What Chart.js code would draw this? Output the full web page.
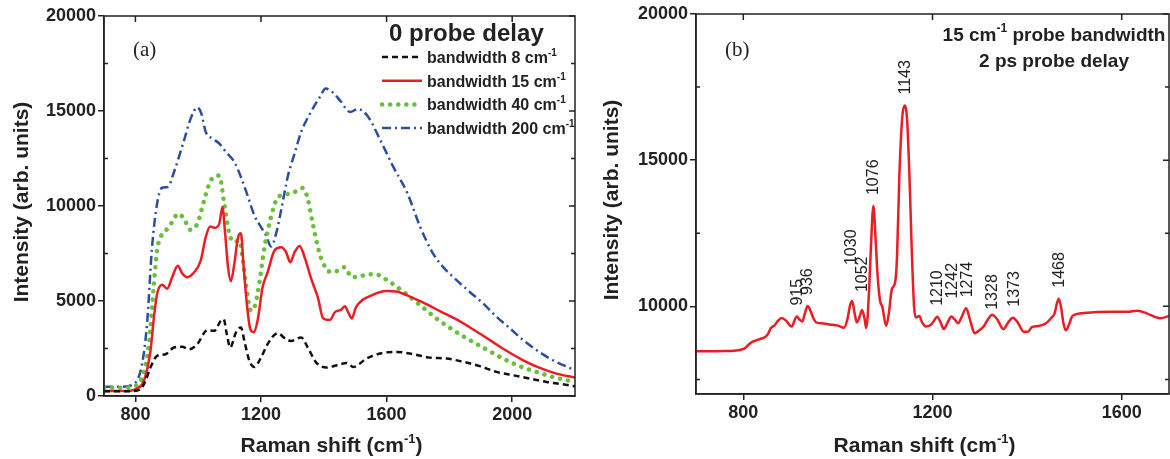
<!DOCTYPE html>
<html>
<head>
<meta charset="utf-8">
<script src="https://cdn.jsdelivr.net/npm/chart.js@4.4.1/dist/chart.umd.min.js"></script>
<style>
  html, body { margin: 0; padding: 0; background: #fff; }
  #wrap { position: relative; width: 1170px; height: 459px; }
  #left { position: absolute; left: 0; top: 0; width: 585px; height: 459px; }
  #right { position: absolute; left: 590px; top: 0; width: 580px; height: 459px; }
</style>
</head>
<body>
<div id="wrap">
  <canvas id="left" width="585" height="459"></canvas>
  <canvas id="right" width="580" height="459"></canvas>
</div>
<script>
// ---- panel (a): 0 probe delay, four probe bandwidths ----
var bandwidths = [8, 15, 40, 200];

var bw8X = [700, 760, 790, 816, 832, 848, 869, 896, 923, 949, 971, 997, 1029, 1051, 1072, 1081, 1091, 1102, 1120, 1136, 1147, 1163, 1179, 1200, 1221, 1253, 1280, 1296, 1328, 1349, 1376, 1408, 1445, 1473, 1494, 1536, 1579, 1632, 1685, 1738, 1791, 1844, 1897, 1950, 2003, 2056, 2109, 2160, 2200];
var bw8Y = [250, 250, 260, 350, 790, 1500, 2110, 2200, 2550, 2590, 2460, 2730, 3470, 3430, 3960, 4050, 3260, 2550, 3340, 3610, 2900, 1850, 1530, 2020, 2730, 3300, 2990, 2900, 3080, 2550, 1760, 1500, 1640, 1740, 1530, 1970, 2240, 2320, 2200, 2020, 1970, 1800, 1570, 1270, 1090, 915, 740, 620, 510];

var bw15X = [700, 760, 785, 805, 827, 848, 859, 869, 885, 901, 917, 935, 949, 965, 987, 1008, 1024, 1038, 1051, 1067, 1077, 1085, 1095, 1104, 1115, 1127, 1136, 1144, 1155, 1166, 1177, 1189, 1205, 1221, 1243, 1264, 1280, 1293, 1307, 1323, 1339, 1360, 1381, 1398, 1419, 1435, 1456, 1467, 1478, 1489, 1502, 1523, 1550, 1577, 1603, 1630, 1664, 1717, 1770, 1823, 1876, 1929, 1982, 2035, 2088, 2141, 2200];
var bw15Y = [260, 260, 280, 390, 790, 2380, 4140, 5370, 5860, 5650, 6250, 6860, 6460, 6250, 6510, 7130, 8360, 8920, 8850, 9060, 9950, 8710, 6780, 6040, 6950, 8360, 8560, 6950, 4840, 3520, 3360, 3960, 5720, 6510, 7660, 7830, 7570, 7040, 7570, 7900, 7300, 6160, 5190, 4080, 4000, 4400, 4550, 4720, 4400, 4080, 4660, 5050, 5280, 5460, 5520, 5500, 5310, 4910, 4470, 4030, 3500, 2940, 2380, 1880, 1480, 1180, 970];

var bw40X = [700, 760, 800, 821, 843, 859, 869, 880, 896, 917, 935, 955, 974, 997, 1019, 1040, 1067, 1083, 1099, 1115, 1131, 1141, 1152, 1168, 1179, 1195, 1211, 1232, 1253, 1280, 1307, 1333, 1349, 1365, 1387, 1408, 1429, 1445, 1465, 1490, 1515, 1540, 1563, 1600, 1653, 1706, 1759, 1812, 1865, 1918, 1971, 2024, 2077, 2130, 2200];
var bw40Y = [440, 440, 530, 970, 2730, 5900, 7660, 8360, 8680, 9150, 9590, 9330, 8750, 9060, 10300, 11350, 11600, 10120, 8540, 8100, 8180, 7300, 5900, 4490, 4660, 5980, 7830, 9420, 10440, 10610, 10740, 10950, 10380, 9060, 7480, 6690, 6510, 6600, 6780, 6250, 6300, 6400, 6410, 6110, 5490, 4790, 4080, 3470, 2940, 2450, 1970, 1570, 1270, 1000, 740];

var bw200X = [700, 760, 800, 821, 837, 853, 869, 885, 903, 923, 955, 976, 997, 1010, 1024, 1045, 1067, 1088, 1115, 1136, 1157, 1179, 1200, 1216, 1232, 1248, 1264, 1285, 1307, 1328, 1357, 1388, 1406, 1430, 1452, 1484, 1509, 1541, 1580, 1621, 1666, 1707, 1747, 1779, 1822, 1864, 1907, 1950, 1993, 2035, 2078, 2120, 2163, 2200];
var bw200Y = [490, 490, 700, 1670, 3780, 7830, 10120, 10960, 11000, 11790, 13460, 14600, 15190, 14870, 13900, 13550, 13290, 12850, 12320, 11530, 10560, 9500, 8890, 8450, 7870, 8540, 9770, 11530, 12760, 13900, 14890, 15750, 16180, 15960, 15550, 14950, 15100, 14700, 13470, 12070, 10680, 8900, 7520, 6810, 6110, 5490, 4880, 4170, 3560, 2940, 2410, 1970, 1620, 1360];

var leftXTicks = [800, 1200, 1600, 2000];
var leftYTicks = [0, 5000, 10000, 15000, 20000];
var leftYMinor = [2500, 7500, 12500, 17500];

// ---- panel (b): 15 cm-1 bandwidth, 2 ps probe delay ----
var specX = [700, 760, 790, 803, 812, 820, 835, 846, 852, 858, 866, 873, 881, 891, 902, 913, 919, 925, 930, 936, 942, 948, 954, 965, 982, 1000, 1013, 1020, 1026, 1030, 1035, 1040, 1046, 1051, 1056, 1060, 1066, 1070, 1075, 1080, 1084, 1089, 1094, 1102, 1108, 1114, 1121, 1125, 1130, 1136, 1141, 1146, 1151, 1156, 1161, 1165, 1172, 1178, 1186, 1196, 1203, 1210, 1217, 1224, 1232, 1240, 1247, 1254, 1262, 1271, 1280, 1289, 1298, 1308, 1317, 1326, 1337, 1350, 1360, 1370, 1380, 1393, 1402, 1410, 1424, 1440, 1451, 1458, 1463, 1467, 1472, 1477, 1482, 1488, 1496, 1514, 1542, 1580, 1612, 1633, 1654, 1670, 1682, 1700];
var specY = [8460, 8470, 8500, 8560, 8700, 8790, 8880, 8950, 9050, 9250, 9350, 9500, 9600, 9500, 9310, 9650, 9550, 9480, 9750, 10010, 9850, 9600, 9450, 9420, 9380, 9340, 9270, 9550, 10050, 10180, 9800, 9450, 9650, 9870, 9600, 9260, 10580, 12100, 13430, 12200, 11030, 10200, 9980, 9330, 9800, 10580, 10820, 11700, 14500, 16450, 16870, 16450, 14600, 12000, 10000, 9620, 9670, 9450, 9310, 9360, 9500, 9640, 9450, 9220, 9450, 9650, 9550, 9420, 9650, 9930, 9500, 9080, 9170, 9310, 9550, 9710, 9550, 9220, 9450, 9610, 9450, 9130, 9130, 9290, 9330, 9420, 9600, 9750, 10100, 10260, 9950, 9400, 9180, 9350, 9670, 9760, 9800, 9810, 9810, 9850, 9750, 9640, 9590, 9670];
var peakLabels = [915, 936, 1030, 1052, 1076, 1143, 1210, 1242, 1274, 1328, 1373, 1468];

var rightXTicks = [800, 1200, 1600];
var rightYTicks = [10000, 15000, 20000];
var rightYMinor = [7500, 12500, 17500];

// ---- drawing ----
var INK = '#222';
var SANS = "'Liberation Sans', Arial, sans-serif";
Chart.defaults.font.family = SANS;

function xy(xs, ys) {
    return xs.map(function(x, i) { return {x: x, y: ys[i]}; });
}

// text with superscript parts: [[text, isSup], ...]
function supText(ctx, x, y, parts, size, align) {
    var base = 'bold ' + size + 'px ' + SANS;
    var small = 'bold ' + Math.round(size * 0.62) + 'px ' + SANS;
    var w = 0;
    parts.forEach(function(p) { ctx.font = p[1] ? small : base; w += ctx.measureText(p[0]).width; });
    var cx = align === 'center' ? x - w / 2 : x;
    ctx.textAlign = 'left';
    ctx.textBaseline = 'alphabetic';
    parts.forEach(function(p) {
        ctx.font = p[1] ? small : base;
        ctx.fillText(p[0], cx, p[1] ? y - size * 0.45 : y);
        cx += ctx.measureText(p[0]).width;
    });
}

function axis(min, max, tickList, fit) {
    return {
        type: 'linear', min: min, max: max,
        afterBuildTicks: function(s) { s.ticks = tickList.map(function(v) { return {value: v}; }); },
        afterFit: fit,
        ticks: { font: {size: 18, weight: 'bold'}, color: INK, padding: 2, autoSkip: false, maxRotation: 0,
                 callback: function(v) { return String(v); } },
        grid: { drawOnChartArea: false, color: INK, lineWidth: 1.5, tickLength: 6 },
        border: { color: INK, width: 1.5 },
        title: { display: false }
    };
}

// box, inward ticks, minor ticks and axis titles
var framePlugin = {
    id: 'frame',
    afterDraw: function(chart, args, opts) {
        var ctx = chart.ctx, a = chart.chartArea, sx = chart.scales.x, sy = chart.scales.y;
        ctx.save();
        ctx.strokeStyle = INK;
        ctx.lineWidth = 1.5;
        ctx.strokeRect(a.left, a.top, a.right - a.left, a.bottom - a.top);
        ctx.beginPath();
        sx.ticks.forEach(function(t) {
            var px = sx.getPixelForValue(t.value);
            ctx.moveTo(px, a.top); ctx.lineTo(px, a.top + 6);
        });
        sy.ticks.forEach(function(t) {
            var py = sy.getPixelForValue(t.value);
            ctx.moveTo(a.right, py); ctx.lineTo(a.right - 6, py);
        });
        opts.minorY.forEach(function(v) {
            var py = sy.getPixelForValue(v);
            ctx.moveTo(a.left, py); ctx.lineTo(a.left + 4, py);
            ctx.moveTo(a.right, py); ctx.lineTo(a.right - 4, py);
        });
        ctx.stroke();

        ctx.fillStyle = INK;
        supText(ctx, (a.left + a.right) / 2 - 8, 452, [['Raman shift (cm', false], ['-1', true], [')', false]], 21, 'center');
        ctx.save();
        ctx.translate(22, (a.top + a.bottom) / 2 - 4);
        ctx.rotate(-Math.PI / 2);
        ctx.font = 'bold 21px ' + SANS;
        ctx.textAlign = 'center';
        ctx.textBaseline = 'middle';
        ctx.fillText('Intensity (arb. units)', 0, 0);
        ctx.restore();

        ctx.font = '21px "Liberation Serif", "Times New Roman", serif';
        ctx.textAlign = 'left';
        ctx.textBaseline = 'alphabetic';
        ctx.fillText(opts.panel, a.left + 29, 56);
        ctx.restore();
    }
};

// legend of panel (a)
var legendPlugin = {
    id: 'bwLegend',
    afterDraw: function(chart) {
        var ctx = chart.ctx, a = chart.chartArea;
        ctx.save();
        ctx.fillStyle = INK;
        supText(ctx, a.right - 186, 41, [['0 probe delay', false]], 24, 'left');
        chart.data.datasets.forEach(function(ds, i) {
            var y = 57 + i * 23.7;
            ctx.beginPath();
            ctx.strokeStyle = ds.borderColor;
            ctx.lineWidth = ds.borderWidth;
            ctx.lineCap = ds.borderCapStyle || 'butt';
            ctx.setLineDash(ds.borderDash || []);
            ctx.moveTo(a.right - 193, y);
            ctx.lineTo(a.right - 153, y);
            ctx.stroke();
            ctx.setLineDash([]);
            ctx.fillStyle = INK;
            supText(ctx, a.right - 148, y + 6, [['bandwidth ' + bandwidths[i] + ' cm', false], ['-1', true]], 16, 'left');
        });
        ctx.restore();
    }
};

// peak positions and captions of panel (b)
var peakGap = {1030: 36, 1052: 18, 1242: 18, 1328: 5};
var peakPlugin = {
    id: 'peaks',
    afterDraw: function(chart) {
        var ctx = chart.ctx, a = chart.chartArea, sx = chart.scales.x, sy = chart.scales.y;
        ctx.save();
        ctx.fillStyle = INK;
        ctx.font = '16px ' + SANS;
        ctx.textAlign = 'left';
        ctx.textBaseline = 'middle';
        peakLabels.forEach(function(p) {
            var top = -Infinity;
            specX.forEach(function(x, i) { if (Math.abs(x - p) <= 7 && specY[i] > top) top = specY[i]; });
            var px = sx.getPixelForValue(p);
            var py = sy.getPixelForValue(top) - (peakGap[p] || 11);
            ctx.save();
            ctx.translate(px, py);
            ctx.rotate(-Math.PI / 2);
            ctx.fillText(String(p), 0, 0);
            ctx.restore();
        });
        supText(ctx, a.right - 115, 41, [['15 cm', false], ['-1', true], [' probe bandwidth', false]], 19, 'center');
        supText(ctx, a.right - 115, 67, [['2 ps probe delay', false]], 19, 'center');
        ctx.restore();
    }
};

var lineBase = { pointRadius: 0, fill: false, cubicInterpolationMode: 'monotone' };

new Chart(document.getElementById('left').getContext('2d'), {
    type: 'line',
    data: {
        datasets: [
            Object.assign({ label: 'bandwidth 8', data: xy(bw8X, bw8Y), borderColor: '#111111', borderWidth: 2.5, borderDash: [6, 4] }, lineBase),
            Object.assign({ label: 'bandwidth 15', data: xy(bw15X, bw15Y), borderColor: '#ec1c24', borderWidth: 2.5 }, lineBase),
            Object.assign({ label: 'bandwidth 40', data: xy(bw40X, bw40Y), borderColor: '#6abf3c', borderWidth: 4.5, borderDash: [0.1, 8], borderCapStyle: 'round' }, lineBase),
            Object.assign({ label: 'bandwidth 200', data: xy(bw200X, bw200Y), borderColor: '#2c4e9f', borderWidth: 2.5, borderDash: [9, 4, 2, 4] }, lineBase)
        ]
    },
    options: {
        responsive: false,
        animation: false,
        layout: { padding: { top: 16, right: 10, left: 0, bottom: 0 } },
        plugins: { legend: { display: false }, tooltip: { enabled: false }, frame: { minorY: leftYMinor, panel: '(a)' } },
        scales: {
            x: axis(700, 2200, leftXTicks, function(s) { s.height = 63; }),
            y: axis(0, 20000, leftYTicks, function(s) { s.width = 104; })
        }
    },
    plugins: [framePlugin, legendPlugin]
});

new Chart(document.getElementById('right').getContext('2d'), {
    type: 'line',
    data: {
        datasets: [
            Object.assign({ label: '2 ps', data: xy(specX, specY), borderColor: '#ec1c24', borderWidth: 2.5 }, lineBase)
        ]
    },
    options: {
        responsive: false,
        animation: false,
        layout: { padding: { top: 14, right: 1, left: 0, bottom: 0 } },
        plugins: { legend: { display: false }, tooltip: { enabled: false }, frame: { minorY: rightYMinor, panel: '(b)' } },
        scales: {
            x: axis(700, 1700, rightXTicks, function(s) { s.height = 65; }),
            y: axis(7000, 20000, rightYTicks, function(s) { s.width = 106; })
        }
    },
    plugins: [framePlugin, peakPlugin]
});
</script>
</body>
</html>
